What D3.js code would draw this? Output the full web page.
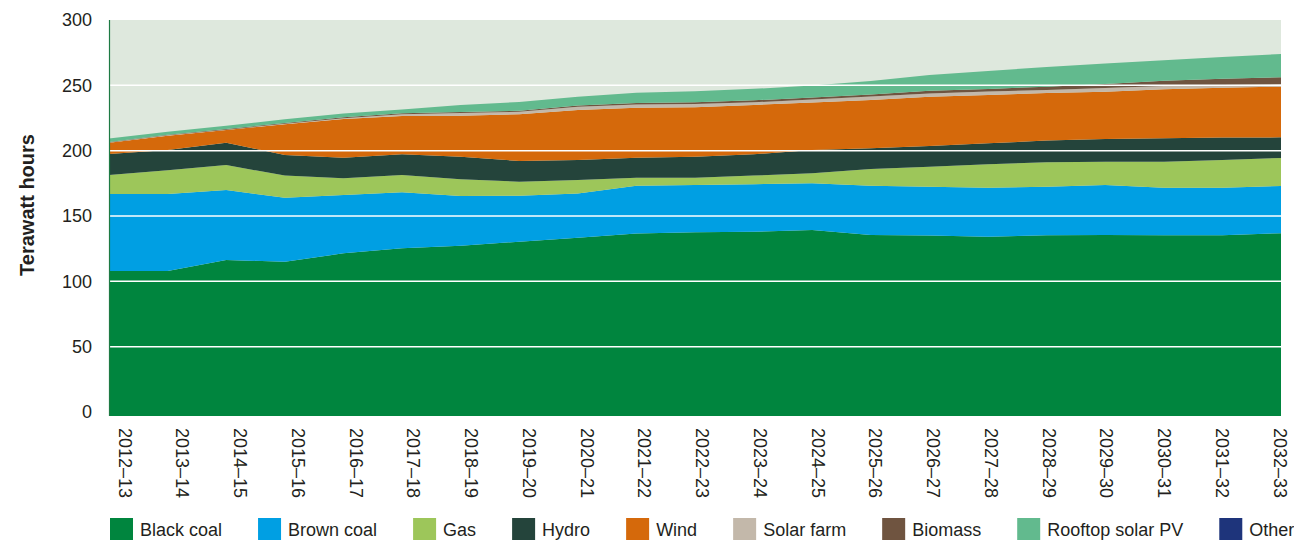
<!DOCTYPE html>
<html>
<head>
<meta charset="utf-8">
<script src="https://cdn.jsdelivr.net/npm/d3@7"></script>
<style>
  body { margin: 0; background: #fff; }
  svg { font-family: "Liberation Sans", Arial, Helvetica, sans-serif; }
</style>
</head>
<body>
<div id="chart"></div>
<script>
////////////////////////////////////////////////////////////////////////
// Data (terawatt hours)

let years = ["2012–13", "2013–14", "2014–15", "2015–16", "2016–17", "2017–18",
             "2018–19", "2019–20", "2020–21", "2021–22", "2022–23", "2023–24",
             "2024–25", "2025–26", "2026–27", "2027–28", "2028–29", "2029–30",
             "2030–31", "2031–32", "2032–33"];

let blackCoal = [108, 108, 116.3, 115, 121.4, 125.3, 127.3, 130.3, 133.4, 136.7, 137.5,
                 138, 139.3, 135.5, 135, 134.2, 135.3, 135.4, 135.3, 135.3, 136.8];
let brownCoal = [58.8, 58.8, 53.6, 49, 44.6, 42.8, 38, 35.2, 33.8, 36.5, 36.2,
                 36.3, 35.7, 37.7, 37.4, 37.5, 37.1, 38.4, 36.4, 36.4, 36.2];
let gas       = [14.6, 18.2, 19.1, 16.9, 12.8, 13.3, 12.8, 10.8, 10.3, 6.1, 5.6,
                 6.6, 7.7, 12.8, 15.3, 17.9, 18.8, 17.8, 19.9, 21.2, 21.4];
let hydro     = [16, 15.5, 17.1, 15.8, 15.8, 15.8, 17.3, 15.8, 15.4, 15.3, 16.1,
                 16.3, 17.8, 15.8, 15.9, 16, 16.6, 17.3, 17.9, 17.1, 15.8];
let wind      = [8.7, 11, 9.7, 23.5, 29.6, 29.3, 31.4, 35.7, 38.2, 38.2, 37.9,
                 37.8, 36.3, 37, 37.7, 37, 36.4, 36.2, 37.5, 38.2, 38.8];
let solarFarm = [0.2, 0.3, 0.3, 0.4, 0.6, 1.3, 2, 2, 2.5, 2.6, 2.4,
                 2, 2.3, 2.7, 2.5, 2.6, 2.3, 2.8, 2.5, 2, 1.8];
let biomass   = [0.3, 0.4, 0.5, 0.6, 0.7, 0.8, 0.8, 0.8, 1, 1, 1.3,
                 1.5, 1.5, 1.5, 2, 2, 2.5, 3.2, 4, 4.9, 5.3];
let rooftopPV = [2.7, 2.3, 2.5, 2.8, 3, 3, 5.4, 6.7, 6.7, 8, 8.5,
                 8.8, 9.2, 10.3, 12.1, 13.8, 15, 15.7, 15.7, 16.6, 17.9];
let other     = [0, 0, 0, 0, 0, 0, 0, 0, 0, 0, 0,
                 0, 0, 0, 0, 0, 0, 0, 0, 0, 0];

let seriesNames  = ["Black coal", "Brown coal", "Gas", "Hydro", "Wind",
                    "Solar farm", "Biomass", "Rooftop solar PV", "Other"];
let seriesValues = [blackCoal, brownCoal, gas, hydro, wind,
                    solarFarm, biomass, rooftopPV, other];
let seriesColors = ["#00853e", "#009fe3", "#9dc65a", "#24443b", "#d5690b",
                    "#c3b8aa", "#6f5440", "#62ba8e", "#1e347b"];

let yTicks = [0, 50, 100, 150, 200, 250, 300];

////////////////////////////////////////////////////////////////////////
// Layout

let width = 1294, height = 540;
let margin = {top: 20, left: 109, right: 13};
let plotBottom = 416;      // plot area runs a few px under the zero line
let zeroY = 412;
let textColor = "#231f20";

let svg = d3.select("#chart").append("svg")
  .attr("width", width)
  .attr("height", height);

// scales
let xScale = d3.scaleLinear()
  .domain([0, years.length - 1])
  .range([margin.left, width - margin.right]);

let yScale = d3.scaleLinear()
  .domain([0, 300])
  .range([zeroY, margin.top]);

// x labels sit slightly off the data columns in the original
let labelScale = d3.scalePoint()
  .domain(years)
  .range([125, 1280]);

// plot background
svg.append("rect")
  .attr("x", xScale(0))
  .attr("y", yScale(300))
  .attr("width", xScale(years.length - 1) - xScale(0))
  .attr("height", plotBottom - yScale(300))
  .attr("fill", "#dee8dd");

// build the table for the stack
let rows = years.map((y, i) => {
  let r = {year: y, i: i};
  seriesNames.forEach((n, k) => { r[n] = seriesValues[k][i]; });
  return r;
});

let stack = d3.stack().keys(seriesNames);
let layers = stack(rows);

let area = d3.area()
  .x((d) => xScale(d.data.i))
  .y0((d) => d[0] === 0 ? plotBottom : yScale(d[0]))
  .y1((d) => yScale(d[1]));

svg.append("g")
  .selectAll("path")
  .data(layers)
  .enter()
  .append("path")
  .attr("d", area)
  .attr("fill", (d, i) => seriesColors[i]);

// white gridlines on top of the areas
svg.append("g")
  .selectAll("line")
  .data(yTicks.filter((t) => t > 0 && t < 300))
  .enter()
  .append("line")
  .attr("x1", xScale(0))
  .attr("x2", xScale(years.length - 1))
  .attr("y1", (d) => yScale(d))
  .attr("y2", (d) => yScale(d))
  .attr("stroke", "#fff")
  .attr("stroke-width", 1.5);

// left axis line
svg.append("line")
  .attr("x1", xScale(0) + 0.5)
  .attr("x2", xScale(0) + 0.5)
  .attr("y1", yScale(300))
  .attr("y2", plotBottom)
  .attr("stroke", "#1d7a43")
  .attr("stroke-width", 1.2);

// y axis
let yAxis = svg.append("g")
  .attr("transform", "translate(" + xScale(0) + ",0)")
  .call(d3.axisLeft(yScale).tickValues(yTicks).tickSize(0).tickPadding(17));
yAxis.select(".domain").remove();
yAxis.selectAll("text")
  .attr("font-size", 18)
  .attr("font-family", "Liberation Sans, Arial, sans-serif")
  .attr("fill", textColor);

// y title
svg.append("text")
  .attr("transform", "translate(27,205) rotate(-90)")
  .attr("text-anchor", "middle")
  .attr("dy", "0.35em")
  .attr("font-size", 20)
  .attr("font-weight", "bold")
  .attr("fill", textColor)
  .text("Terawatt hours");

// x labels, rotated to read downwards
svg.append("g")
  .selectAll("text")
  .data(years)
  .enter()
  .append("text")
  .attr("transform", (d) => "translate(" + labelScale(d) + ",428) rotate(90)")
  .attr("dy", "0.35em")
  .attr("font-size", 18)
  .attr("fill", textColor)
  .text((d) => d);

// legend along the bottom, flowing left to right
let legend = svg.append("g");
let lx = 110;
seriesNames.forEach((n, k) => {
  legend.append("rect")
    .attr("x", lx)
    .attr("y", 518)
    .attr("width", 23)
    .attr("height", 23)
    .attr("fill", seriesColors[k]);
  let t = legend.append("text")
    .attr("x", lx + 30)
    .attr("y", 530)
    .attr("dy", "0.35em")
    .attr("font-size", 18)
    .attr("fill", textColor)
    .text(n);
  lx += 30 + t.node().getComputedTextLength() + 36;
});
</script>
</body>
</html>
